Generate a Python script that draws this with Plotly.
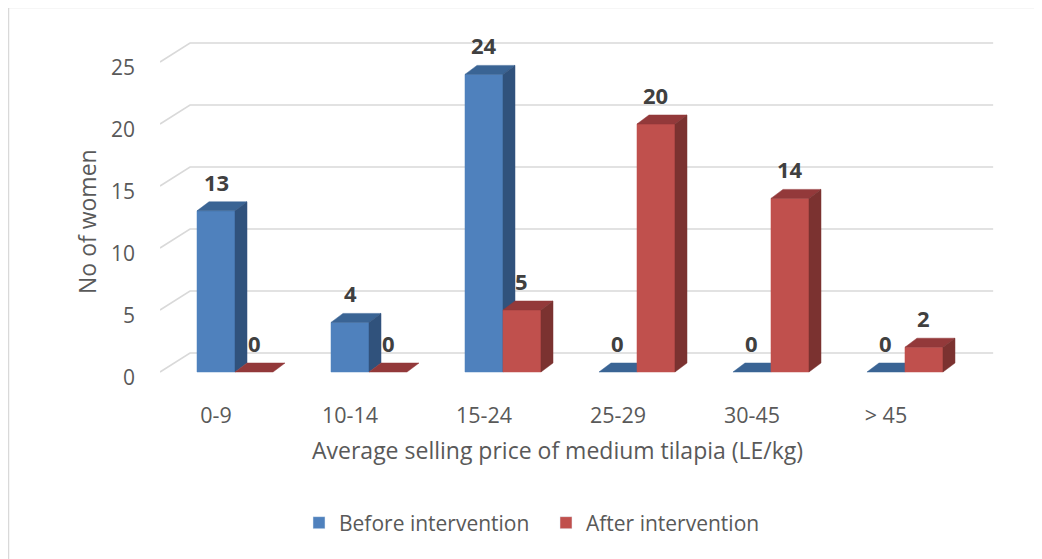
import plotly.graph_objects as go

# data
categories = ['0-9', '10-14', '15-24', '25-29', '30-45', '> 45']
before = [13, 4, 24, 0, 0, 0]
after = [0, 0, 5, 20, 14, 2]
y_ticks = [0, 5, 10, 15, 20, 25]

font_family = "'Open Sans', sans-serif"
txt_col = '#595959'

# fake 3d geometry, in axis units
W = 0.2836      # bar width
DX = 0.0896     # bar depth (x)
DY = 0.726      # bar depth (y)
WDX = 0.224     # wall depth (x)
WDY = 1.532     # wall depth (y)
X_LO, X_HI = -0.418, 5.851
Y_LO, Y_HI = -2.258, 27.58
WALL_END = 5.80

series = [
    dict(name='Before intervention', vals=before, off=0,
         front='#4F81BD', top='#3A6494', side='#30527C'),
    dict(name='After intervention', vals=after, off=W,
         front='#C0504D', top='#93393A', side='#7B3230'),
]

fig = go.Figure()

# back wall gridlines
gx, gy = [], []
for v in y_ticks:
    gx += [X_LO, X_LO + WDX, WALL_END, None]
    gy += [v, v + WDY, v + WDY, None]
fig.add_trace(go.Scatter(x=gx, y=gy, mode='lines', line=dict(color='#D9D9D9', width=1.6),
                         hoverinfo='skip', showlegend=False))


def poly_trace(xs, ys, color):
    return go.Scatter(x=xs, y=ys, mode='lines', fill='toself', fillcolor=color,
                      line=dict(color=color, width=0.5), hoverinfo='skip', showlegend=False)


for s in series:
    fx, fy, tx, ty, sx, sy = [], [], [], [], [], []
    for i, v in enumerate(s['vals']):
        xl = i + s['off'] - W / 2
        xr = xl + W
        if v > 0:
            fx += [xl, xr, xr, xl, xl, None]
            fy += [0, 0, v, v, 0, None]
            sx += [xr, xr + DX, xr + DX, xr, xr, None]
            sy += [0, DY, v + DY, v, 0, None]
        tx += [xl, xr, xr + DX, xl + DX, xl, None]
        ty += [v, v, v + DY, v + DY, v, None]
    fig.add_trace(poly_trace(fx, fy, s['front']))
    fig.add_trace(poly_trace(tx, ty, s['top']))
    fig.add_trace(poly_trace(sx, sy, s['side']))
    # legend entry
    fig.add_trace(go.Bar(x=[None], y=[None], name=s['name'], marker_color=s['front']))

# data labels
for s in series:
    for i, v in enumerate(s['vals']):
        fig.add_annotation(x=i + s['off'], y=v, text='<b>%d</b>' % v, showarrow=False,
                           yshift=29, font=dict(size=22, color='#404040', family=font_family))

# y tick labels (sit a little below the front gridline ends)
for v in y_ticks:
    fig.add_annotation(x=(137 - 160) / 840, y=v, xref='paper', yref='y', text=str(v),
                       xanchor='right', yanchor='middle', yshift=-5, showarrow=False,
                       font=dict(size=21, color=txt_col, family=font_family))

# axis titles
fig.add_annotation(x=(557 - 160) / 840, y=(400 - 450) / 370, xref='paper', yref='paper',
                   xanchor='center', yanchor='middle',
                   text='Average selling price of medium tilapia (LE/kg)', showarrow=False,
                   font=dict(size=23, color=txt_col, family=font_family))
fig.add_annotation(x=(87 - 160) / 840, y=(400 - 222) / 370, xref='paper', yref='paper',
                   xanchor='center', yanchor='middle',
                   text='No of women', textangle=-90, showarrow=False,
                   font=dict(size=23, color=txt_col, family=font_family))

# outer border
fig.add_shape(type='line', xref='paper', yref='paper', x0=(8 - 160) / 840, x1=(1060 - 160) / 840,
              y0=(400 - 7.5) / 370, y1=(400 - 7.5) / 370, line=dict(color='#D9D9D9', width=1.5))
fig.add_shape(type='line', xref='paper', yref='paper', x0=(8.5 - 160) / 840, x1=(8.5 - 160) / 840,
              y0=(400 - 7) / 370, y1=(400 - 570) / 370, line=dict(color='#D9D9D9', width=1.5))

fig.update_xaxes(range=[X_LO, X_HI], tickvals=list(range(len(categories))), ticktext=categories,
                 showgrid=False, zeroline=False, showline=False, ticks='',
                 tickfont=dict(size=21.5, color=txt_col, family=font_family))
fig.update_yaxes(range=[Y_LO, Y_HI], showticklabels=False, showgrid=False, zeroline=False,
                 showline=False, ticks='')
# page body has an 8px margin, so the margins are shifted by 8px
fig.update_layout(
    width=1042, height=559, autosize=False,
    margin=dict(l=152, r=50, t=22, b=167),
    plot_bgcolor='white', paper_bgcolor='white',
    barmode='overlay',
    legend=dict(orientation='h', x=(299 - 160) / 840, xanchor='left', y=(400 - 523) / 370,
                yanchor='middle', font=dict(size=21, color=txt_col, family=font_family),
                itemwidth=30, tracegroupgap=0, entrywidth=202),
    font=dict(family=font_family),
)

fig.write_html("out.html")
